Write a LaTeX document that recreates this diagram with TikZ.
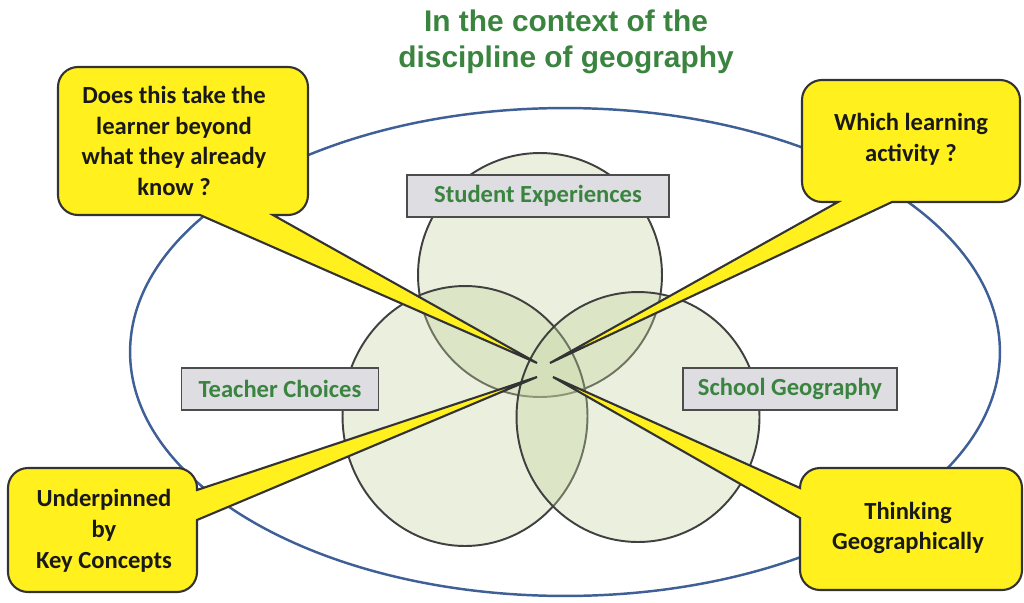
\documentclass[tikz,border=0pt]{standalone}
\usepackage{fontspec}
\setmainfont{Carlito}
\newfontfamily\titlefont{Liberation Sans}
\definecolor{askyellow}{RGB}{255,240,30}
\definecolor{geogreen}{RGB}{58,132,64}
\definecolor{tagfill}{RGB}{221,221,226}
\definecolor{ovalblue}{RGB}{62,96,150}
\definecolor{vennfill}{RGB}{196,214,160}
\usetikzlibrary{positioning}

\tikzset{
  venn/.style={draw=black!75, line width=1.1pt, fill=vennfill, fill opacity=0.35},
  tag/.style={draw=black!70, line width=1.1pt, fill=tagfill, minimum height=0.84cm, font=\fontsize{14}{16}\selectfont\bfseries, text=geogreen},
  callout/.style={draw=black!80, line width=1.2pt, fill=askyellow},
  ask/.style={align=center, font=\fontsize{14}{17.5}\selectfont\bfseries, text=black!90}
}

\begin{document}
\begin{tikzpicture}[x=0.02cm, y=-0.02cm]
  \useasboundingbox (0,0) rectangle (1024,602);

  % Title
  \node[align=center, font=\titlefont\fontsize{17}{20.5}\selectfont\bfseries, text=geogreen] (title) at (566,42) {In the context of the\\discipline of geography};

  % Discipline oval
  \draw[ovalblue, line width=1.4pt, fill=white] (565,352) ellipse [x radius=8.7cm, y radius=4.88cm];

  % Venn circles
  \draw[venn] (540,275) circle [radius=2.44cm];
  \draw[venn] (465,416) ellipse [x radius=2.45cm, y radius=2.6cm];
  \draw[venn] (638,417) ellipse [x radius=2.43cm, y radius=2.5cm];

  % Circle labels
  \node[tag, minimum width=5.24cm] (student) at (538,196) {Student Experiences};
  \node[tag, minimum width=3.94cm] (teacher) at (280,389) {Teacher Choices};
  \node[tag, minimum width=4.28cm] (school) at (790,389) {School Geography};

  % Pointer tips in the middle
  \coordinate (tipA) at (537,363);
  \coordinate (tipB) at (550,363);
  \coordinate (tipC) at (537,377);
  \coordinate (tipD) at (553,377);

  % Callouts
  \draw[callout] (183,67) [rounded corners=0.4cm] -- (308,67) -- (308,215) [sharp corners] -- (273,215) -- (tipA) -- (200,215) [rounded corners=0.4cm] -- (58,215) -- (58,67) -- cycle;
  \draw[callout] (911,80) [rounded corners=0.4cm] -- (1020,80) -- (1020,202) [sharp corners] -- (892,202) -- (tipB) -- (838,202) [rounded corners=0.4cm] -- (802,202) -- (802,80) -- cycle;
  \draw[callout] (102,468) [rounded corners=0.4cm] -- (197,468) [sharp corners] -- (197,490) -- (tipC) -- (197,520) [rounded corners=0.4cm] -- (197,592) -- (8,592) -- (8,468) -- cycle;
  \draw[callout] (911,468) [rounded corners=0.4cm] -- (1022,468) -- (1022,590) -- (800,590) [sharp corners] -- (800,518) -- (tipD) -- (800,488) [rounded corners=0.4cm] -- (800,468) -- cycle;

  % Callout texts
  \node[ask] (qA) at (174,141) {Does this take the\\learner beyond\\what they already\\know ?};
  \node[ask] (qB) at (911,139) {Which learning\\activity ?};
  \node[ask] (qC) at (104,531) {Underpinned\\by\\Key Concepts};
  \node[ask] (qD) at (908,528) {Thinking\\Geographically};
\end{tikzpicture}
\end{document}
